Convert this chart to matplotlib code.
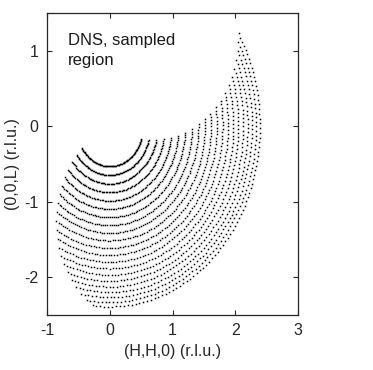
import numpy as np
import matplotlib
matplotlib.use('Agg')
import matplotlib.pyplot as plt

plt.rcParams['font.family'] = ['Liberation Sans', 'DejaVu Sans']
plt.rcParams['axes.unicode_minus'] = False

# |Q| of each detector arc, read where the arcs cross H = 0 (r.l.u.)
arc_q = [0.532, 0.648, 0.763, 0.877, 0.988, 1.098, 1.206, 1.312, 1.415, 1.515,
         1.613, 1.707, 1.798, 1.886, 1.970, 2.050, 2.127, 2.199, 2.267, 2.331, 2.391]
# angle (deg) where each arc starts, lower-left end
arc_start = [-146.6, -144.1, -141.6, -139.1, -136.6, -134.1, -131.6, -129.1, -126.6, -124.1,
             -121.6, -119.1, -116.6, -114.1, -111.6, -109.1, -106.6, -104.1, -101.6, -99.1, -96.6]
sweep = 128.5        # sample rotation range (deg)
step = 1.5           # rotation step (deg)

xticks = [-1, 0, 1, 2, 3]
yticks = [-2, -1, 0, 1]

fig = plt.figure(figsize=(3.73, 3.70), dpi=100)
ax = fig.add_axes([0.126, 0.149, 0.673, 0.816])

for q, a0 in zip(arc_q, arc_start):
    ang = np.deg2rad(np.arange(a0, a0 + sweep + 1e-6, step))
    ax.plot(q * np.cos(ang), q * np.sin(ang), 's', color='k', ms=1.1, mew=0)

ax.set_xlim(-1, 3)
ax.set_ylim(-2.5, 1.5)
ax.set_xticks(xticks)
ax.set_yticks(yticks)
ax.tick_params(direction='in', top=True, right=True, length=3.5, width=0.8,
               labelsize=11.5, colors='#262626', pad=6)
for s in ax.spines.values():
    s.set_linewidth(0.9)
    s.set_color('#262626')

ax.set_xlabel('(H,H,0) (r.l.u.)', fontsize=11.5, color='#262626', labelpad=4)
ax.set_ylabel('(0,0,L) (r.l.u.)', fontsize=11.5, color='#262626', labelpad=3)
ax.text(-0.67, 1.24, 'DNS, sampled\nregion', fontsize=12, va='top', ha='left',
        linespacing=1.45, color='#1a1a1a')

fig.savefig('out.png', dpi=100)
